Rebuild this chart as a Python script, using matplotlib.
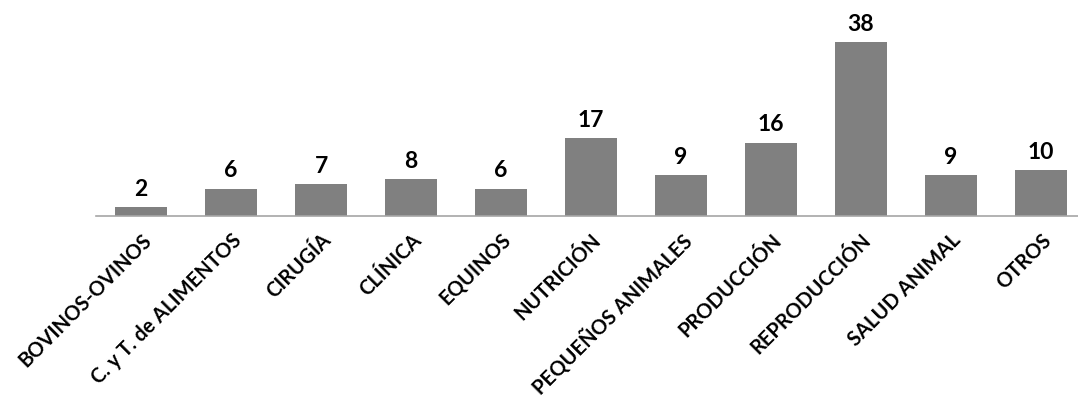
import matplotlib.pyplot as plt

categorias = ["BOVINOS-OVINOS", "C. y T. de ALIMENTOS", "CIRUGÍA", "CLÍNICA", "EQUINOS",
              "NUTRICIÓN", "PEQUEÑOS ANIMALES", "PRODUCCIÓN", "REPRODUCCIÓN",
              "SALUD ANIMAL", "OTROS"]
valores = [2, 6, 7, 8, 6, 17, 9, 16, 38, 9, 10]

plt.rcParams['font.family'] = ['Lato', 'DejaVu Sans']

fig = plt.figure(figsize=(10.78, 4.04), dpi=100)
ax = fig.add_axes([96 / 1078, 188 / 404, 990 / 1078, 183 / 404])

x = range(len(categorias))
ax.bar(x, valores, width=0.57, color='#808080')

for i, v in enumerate(valores):
    ax.text(i, v + 1.6, str(v), ha='center', va='bottom', fontsize=16.5, fontweight='bold')

ax.set_xlim(-0.5, 10.5)
ax.set_ylim(0, 40)
ax.set_yticks([])
ax.set_xticks(list(x))
ax.set_xticklabels(categorias, rotation=45, ha='right', rotation_mode='anchor',
                   fontsize=14.5, fontweight='bold')
ax.tick_params(axis='x', length=0, pad=10)

for s in ['top', 'right', 'left']:
    ax.spines[s].set_visible(False)
ax.spines['bottom'].set_color('#a6a6a6')
ax.spines['bottom'].set_linewidth(1.2)

plt.savefig("out.png", dpi=100)
